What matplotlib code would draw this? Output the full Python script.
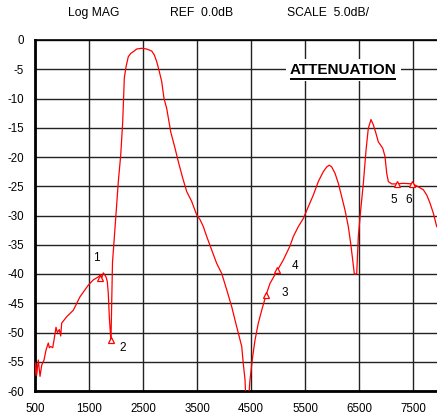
import matplotlib.pyplot as plt

plt.rcParams["font.family"] = ["Liberation Sans", "DejaVu Sans"]

# trace
freq = [500, 513, 531, 561, 593, 624, 667, 704, 746, 765, 791, 828, 852,
        889, 913, 950, 976, 994, 1087, 1209, 1333, 1487, 1580, 1672, 1717,
        1735, 1765, 1815, 1839, 1857, 1876, 1902, 1907, 1935, 1981, 2043,
        2087, 2124, 2154, 2185, 2228, 2272, 2320, 2383, 2476, 2568, 2661,
        2709, 2754, 2802, 2846, 2889, 2939, 3013, 3093, 3154, 3235, 3309,
        3402, 3494, 3556, 3617, 3680, 3772, 3865, 3957, 4050, 4143, 4204,
        4265, 4328, 4357, 4389, 4407, 4450, 4481, 4531, 4574, 4635, 4698,
        4778, 4852, 4987, 5098, 5222, 5283, 5376, 5469, 5561, 5654, 5746,
        5839, 5902, 5950, 5994, 6056, 6117, 6180, 6241, 6302, 6346, 6383,
        6413, 6457, 6487, 6531, 6580, 6630, 6672, 6722, 6765, 6815, 6857,
        6939, 6981, 7013, 7043, 7106, 7198, 7320, 7494, 7598, 7691, 7754,
        7815, 7876, 7939]
mag_db = [-57.3, -55.2, -57.3, -54.7, -57.5, -55.6, -54.7, -53.0, -51.8,
          -52.6, -52.4, -52.6, -51.3, -49.1, -50.0, -49.5, -50.6, -48.4,
          -47.3, -46.2, -43.9, -41.9, -41.0, -40.5, -40.1, -40.7, -39.8,
          -40.5, -41.3, -43.3, -47.3, -51.0, -51.2, -38.0, -32.2, -24.2,
          -19.7, -14.0, -6.5, -4.6, -2.85, -2.3, -2.0, -1.54, -1.42, -1.54,
          -1.88, -2.56, -3.7, -5.4, -7.1, -10.0, -11.7, -15.7, -18.5, -20.8,
          -23.6, -25.9, -27.6, -29.9, -30.7, -31.9, -33.6, -35.9, -38.2,
          -39.9, -42.7, -45.6, -47.9, -50.1, -52.4, -55.3, -58.1, -62.0,
          -62.0, -58.1, -54.1, -51.3, -48.4, -46.2, -43.6, -41.6, -39.4,
          -37.6, -35.2, -33.6, -31.9, -30.5, -28.5, -26.5, -24.2, -22.5,
          -21.7, -21.4, -21.7, -22.8, -24.5, -26.8, -29.1, -31.9, -34.8,
          -37.6, -40.0, -40.0, -33.6, -29.1, -24.5, -18.8, -15.1, -13.6,
          -14.5, -16.0, -17.4, -18.5, -19.9, -22.8, -24.2, -24.6, -24.6,
          -24.5, -24.6, -25.1, -25.6, -26.5, -27.9, -29.6, -31.9]

# markers 1..6
marker_ids = ["1", "2", "3", "4", "5", "6"]
marker_freq = [1704, 1907, 4778, 4990, 7198, 7490]
marker_db = [-40.6, -51.2, -43.6, -39.4, -24.6, -24.6]
label_freq = [1630, 2124, 5117, 5309, 7135, 7420]
label_db = [-37.3, -52.7, -43.3, -38.6, -27.4, -27.4]

x_ticks = [500, 1500, 2500, 3500, 4500, 5500, 6500, 7500]
y_ticks = [0, -5, -10, -15, -20, -25, -30, -35, -40, -45, -50, -55, -60]

fig = plt.figure(figsize=(4.37, 4.16), dpi=100)
ax = fig.add_axes([35 / 437, 25 / 416, 1 - 35 / 437, 351 / 416])

ax.plot(freq, mag_db, color="#ff0000", lw=0.9, zorder=3)
ax.plot(marker_freq, marker_db, ls="none", marker="^", ms=5,
        mfc="white", mec="#ff0000", mew=0.9, zorder=4)
for mid, fx, fy in zip(marker_ids, label_freq, label_db):
    ax.text(fx, fy, mid, fontsize=8.5, ha="center", va="center", zorder=5)

ax.set_xlim(500, 7944)
ax.set_ylim(-60, 0)
ax.set_xticks(x_ticks)
ax.set_yticks(y_ticks)
ax.set_yticklabels([str(v) for v in y_ticks])
ax.tick_params(length=0, labelsize=8.3)
ax.tick_params(axis="y", pad=8)
ax.tick_params(axis="x", pad=9)
ax.grid(True, color="#222222", lw=1.0)
ax.set_axisbelow(True)

for side in ["left", "bottom"]:
    ax.spines[side].set_linewidth(2.0)
ax.spines["top"].set_linewidth(1.2)
ax.spines["right"].set_visible(False)

t = ax.text(6204, -5.1, "ATTENUATION", fontsize=11, fontweight="bold",
            ha="center", va="center", zorder=5,
            bbox=dict(facecolor="white", edgecolor="none", pad=3))
fig.canvas.draw()
bb = t.get_window_extent().transformed(ax.transData.inverted())
ax.plot([bb.x0, bb.x1], [bb.y0 - 0.3, bb.y0 - 0.3], color="black",
        lw=1.4, zorder=6, solid_capstyle="butt")

fig.text(94 / 437, 1 - 13 / 416, "Log MAG", fontsize=8.7, ha="center", va="center")
fig.text(202 / 437, 1 - 13 / 416, "REF  0.0dB", fontsize=8.7, ha="center", va="center")
fig.text(328 / 437, 1 - 13 / 416, "SCALE  5.0dB/", fontsize=8.7, ha="center", va="center")

fig.savefig("out.png", dpi=100)
